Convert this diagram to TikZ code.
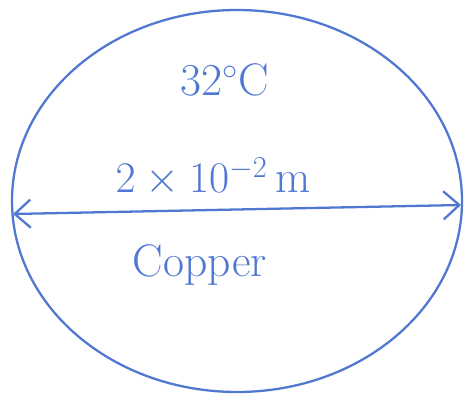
\documentclass[tikz,border=0pt]{standalone}
\usepackage{amsmath}
\usepackage{tikz}
\usetikzlibrary{arrows.meta}

\definecolor{pen}{RGB}{80,120,210}

\begin{document}
\begin{tikzpicture}[x=0.02cm, y=-0.02cm, line cap=round,
    label/.style={text=pen, font=\fontsize{26}{30}\selectfont}]
    \useasboundingbox (0,0) rectangle (469,404);

    % Disc
    \draw[pen, line width=1.3pt] (237,201) ellipse [x radius=225, y radius=191];

    % Diameter
    \coordinate (leftend) at (13,214);
    \coordinate (rightend) at (461,205);
    \draw[pen, line width=1.3pt, {Straight Barb[length=9pt, width=16pt]}-{Straight Barb[length=9pt, width=16pt]}] (leftend) -- (rightend);

    % Labels
    \node[label] (temp) at (225,80) {32$^\circ$C};
    \node[label] (size) at (213,177) {$2\times10^{-2}$\,m};
    \node[label] (metal) at (200,265) {Copper};
\end{tikzpicture}
\end{document}
